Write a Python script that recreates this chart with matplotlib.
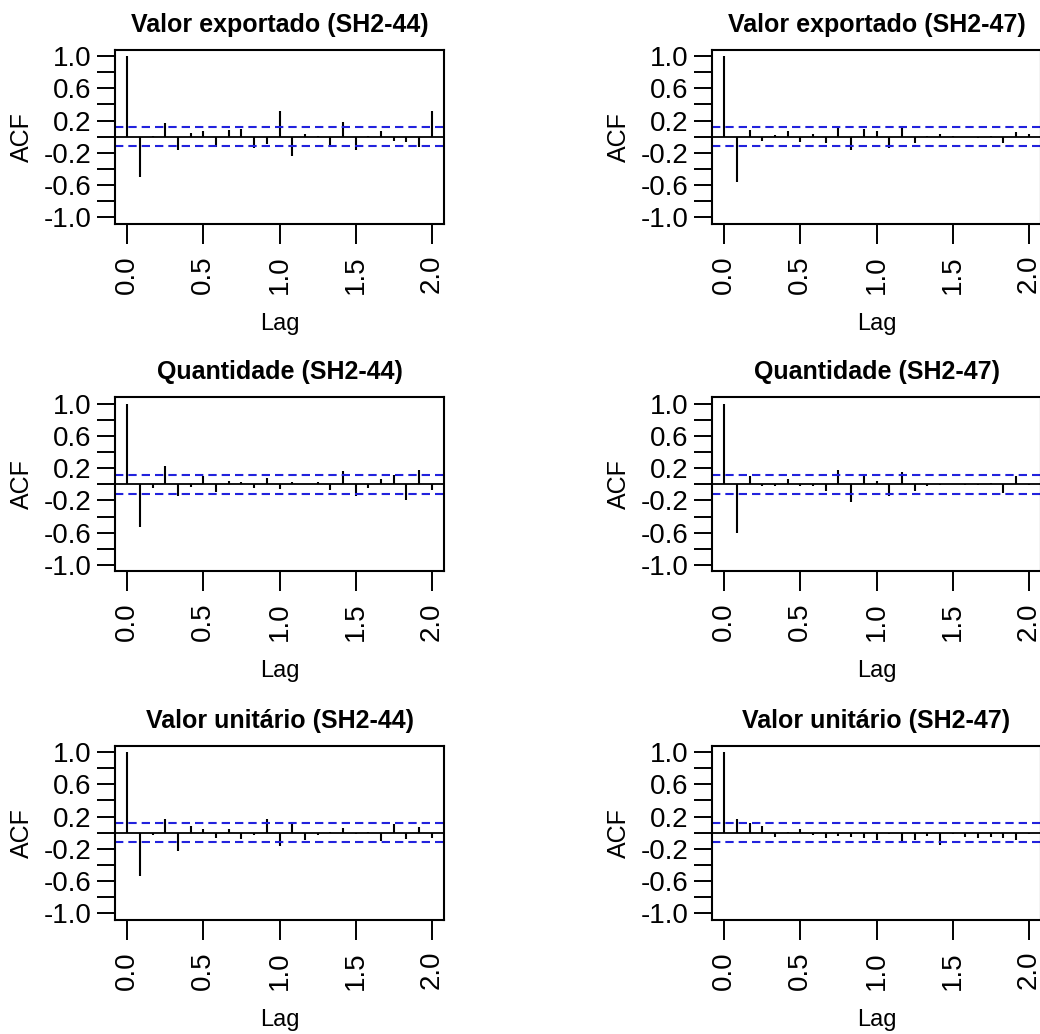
import numpy as np
import matplotlib
matplotlib.use('Agg')
import matplotlib.pyplot as plt

plt.rcParams['font.family'] = ['Liberation Sans', 'DejaVu Sans']

# lags in years (monthly series, frequency 12), 0..24 months
lags = [k / 12 for k in range(25)]

titles = [
    'Valor exportado (SH2-44)', 'Valor exportado (SH2-47)',
    'Quantidade (SH2-44)', 'Quantidade (SH2-47)',
    'Valor unitário (SH2-44)', 'Valor unitário (SH2-47)',
]

acf_valor_44 = [1.0, -0.50, 0.01, 0.17, -0.16, 0.05, 0.07, -0.125, 0.08, 0.09,
                -0.145, -0.09, 0.325, -0.24, 0.03, 0.005, -0.125, 0.18, -0.17,
                0.003, 0.075, -0.05, -0.065, -0.13, 0.325]
acf_valor_47 = [1.0, -0.56, 0.08, -0.05, 0.02, 0.065, -0.06, 0.03, -0.08, 0.11,
                -0.165, 0.09, 0.065, -0.14, 0.11, -0.08, 0.005, 0.03, 0.003,
                -0.005, -0.02, 0.003, -0.08, 0.06, 0.03]
acf_quant_44 = [1.0, -0.53, -0.05, 0.225, -0.14, -0.03, 0.10, -0.09, 0.04, 0.03,
                -0.04, 0.08, -0.06, 0.025, 0.005, 0.03, -0.075, 0.16, -0.14,
                -0.04, 0.06, 0.115, -0.20, 0.175, -0.075]
acf_quant_47 = [1.0, -0.60, 0.105, -0.025, -0.025, 0.06, -0.015, -0.02, -0.08,
                0.175, -0.22, 0.125, 0.04, -0.15, 0.155, -0.085, -0.015, -0.01,
                0.005, -0.01, -0.005, 0.01, -0.105, 0.10, -0.01]
acf_unit_44 = [1.0, -0.54, -0.03, 0.175, -0.225, 0.08, 0.05, -0.06, 0.04, -0.08,
               -0.03, 0.165, -0.165, 0.105, -0.09, -0.03, 0.005, 0.055, -0.015,
               0.005, -0.10, 0.105, -0.08, 0.075, -0.06]
acf_unit_47 = [1.0, 0.165, 0.115, 0.08, -0.055, 0.005, 0.05, -0.03, -0.06, -0.04,
               -0.05, -0.06, -0.095, -0.01, -0.115, -0.09, -0.04, -0.15, -0.01,
               -0.05, -0.06, -0.055, -0.06, -0.09, -0.01]

series = [acf_valor_44, acf_valor_47, acf_quant_44, acf_quant_47,
          acf_unit_44, acf_unit_47]
conf = 0.115  # 1.96/sqrt(n)

fig = plt.figure(figsize=(10.4, 10.34), dpi=100)

col_left = [115 / 1040, 712 / 1040]
width = 329 / 1040
height = 174 / 1034
row_bottom = [1 - 223.7 / 1034, 1 - 571.3 / 1034, 1 - 919.7 / 1034]

yticks = np.round(np.arange(-1.0, 1.01, 0.2), 1)
ylabels = ['%.1f' % v if i % 2 == 0 else '' for i, v in enumerate(yticks)]

for i, (title, acf) in enumerate(zip(titles, series)):
    r, c = divmod(i, 2)
    ax = fig.add_axes([col_left[c], row_bottom[r], width, height])
    ax.vlines(lags, 0, acf, color='black', lw=1.5)
    ax.axhline(0, color='black', lw=1.3)
    for s in (conf, -conf):
        ax.axhline(s, color='#2222dd', lw=1.5, ls=(0, (4, 2.4)))
    ax.set_xlim(-0.08, 2.08)
    ax.set_ylim(-1.08, 1.08)

    ax.set_xticks([0, 0.5, 1.0, 1.5, 2.0])
    ax.set_xticklabels(['0.0', '0.5', '1.0', '1.5', '2.0'], rotation=90,
                       fontsize=20)
    ax.set_yticks(yticks)
    ax.set_yticklabels(ylabels, fontsize=20)
    ax.tick_params(axis='x', length=14.5, width=1.4, pad=8)
    ax.tick_params(axis='y', length=13, width=1.4, pad=4)
    for sp in ax.spines.values():
        sp.set_linewidth(1.5)

    ax.set_title(title, fontsize=18, fontweight='bold', pad=13)
    ax.set_xlabel('Lag', fontsize=17, va='center')
    ax.xaxis.set_label_coords(0.5, -0.575)
    ax.set_ylabel('ACF', fontsize=18, va='center')
    ax.yaxis.set_label_coords(-0.283, 0.5)

fig.savefig('out.png', dpi=100)
